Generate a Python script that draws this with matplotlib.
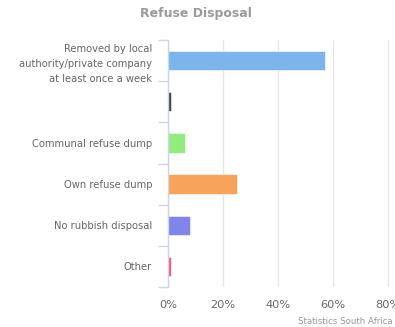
import matplotlib
matplotlib.use("Agg")
import matplotlib.pyplot as plt
from matplotlib.ticker import FixedLocator

categories = [
    "Removed by local\nauthority/private company\nat least once a week",
    "",
    "Communal refuse dump",
    "Own refuse dump",
    "No rubbish disposal",
    "Other",
]
values = [57.0, 1.1, 6.3, 25.2, 7.9, 1.0]
colors = ["#7cb5ec", "#434348", "#90ed7d", "#f7a35c", "#8085e9", "#f15c80"]
xticks = [0, 20, 40, 60, 80]
xtick_labels = ["0%", "20%", "40%", "60%", "80%"]

W, H = 395, 327
fig = plt.figure(figsize=(W / 100, H / 100), dpi=100)
plt.rcParams["font.family"] = ["DejaVu Sans"]

left, right, top, bottom = 168, 395, 40, 287
ax = fig.add_axes([left / W, 1 - bottom / H, (right - left) / W, (bottom - top) / H])

n = len(categories)
ypos = list(range(n))
ax.barh(ypos, values, height=0.47, color=colors, edgecolor="white", linewidth=0.4, zorder=3)

ax.set_ylim(n - 0.5, -0.5)
ax.set_xlim(0, 82.5)

# grid
ax.set_xticks(xticks)
ax.set_xticklabels(xtick_labels)
ax.grid(axis="x", color="#e6e6e6", linewidth=1.0, zorder=0)
ax.set_axisbelow(True)

for s in ["top", "right", "bottom"]:
    ax.spines[s].set_visible(False)
ax.spines["left"].set_color("#ccd6eb")
ax.spines["left"].set_linewidth(1.0)
ax.spines["left"].set_zorder(4)

ax.tick_params(axis="x", length=0, pad=9, labelsize=8.2, labelcolor="#666666")

ax.set_yticks(ypos)
ax.set_yticklabels(categories)
ax.tick_params(axis="y", which="major", length=0, pad=11.5, labelsize=7.2,
               labelcolor="#666666")
ax.yaxis.set_minor_locator(FixedLocator([i - 0.5 for i in range(n + 1)]))
ax.tick_params(axis="y", which="minor", length=7.5, width=1.0, color="#ccd6eb")
for lbl in ax.get_yticklabels():
    lbl.set_horizontalalignment("right")
    lbl.set_multialignment("right")
    lbl.set_linespacing(1.62)

fig.text(196 / W, 1 - 13 / H, "Refuse Disposal", ha="center", va="center",
         fontsize=9.0, fontweight="bold", color="#9a9a9a")
fig.text(393 / W, 1 - 322 / H, "Statistics South Africa", ha="right", va="center",
         fontsize=6.2, color="#999999")

fig.savefig("out.png", dpi=100, facecolor="white")
